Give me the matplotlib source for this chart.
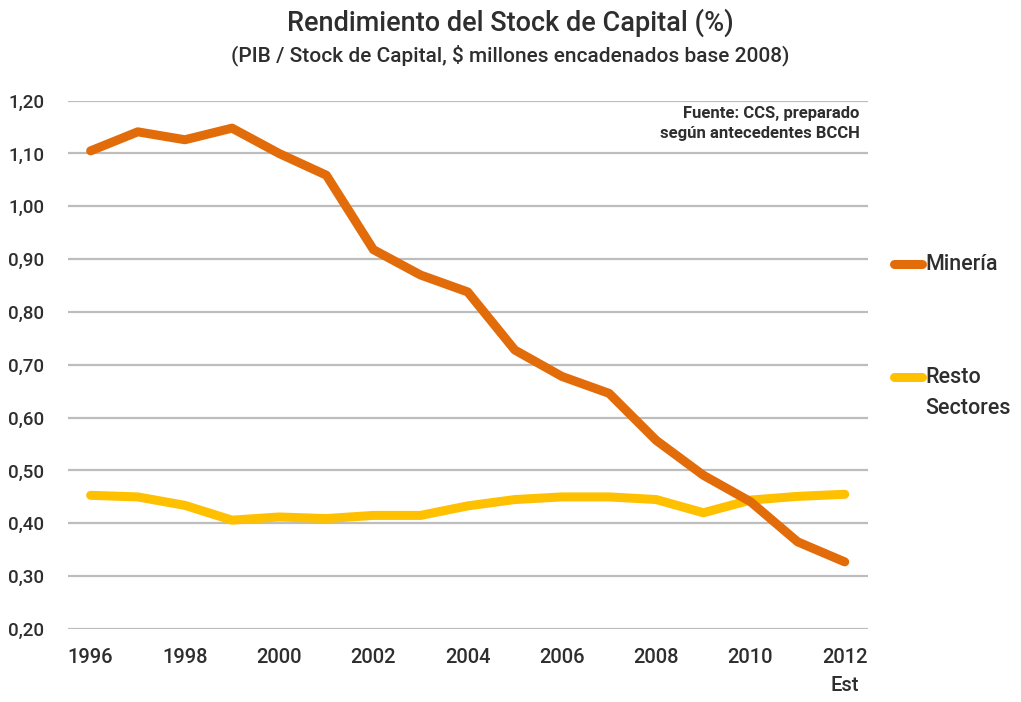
import matplotlib
matplotlib.use("Agg")
import matplotlib.pyplot as plt
from matplotlib.lines import Line2D

years = list(range(1996, 2013))
mineria = [1.105, 1.141, 1.126, 1.148, 1.100, 1.059, 0.918, 0.870, 0.838,
           0.728, 0.678, 0.646, 0.557, 0.491, 0.441, 0.365, 0.327]
resto = [0.453, 0.450, 0.434, 0.406, 0.412, 0.409, 0.415, 0.415, 0.433,
         0.445, 0.450, 0.450, 0.445, 0.420, 0.444, 0.451, 0.455]
xtick_years = [1996, 1998, 2000, 2002, 2004, 2006, 2008, 2010, 2012]
xtick_labels = ["1996", "1998", "2000", "2002", "2004", "2006", "2008", "2010", "2012\nEst"]
yticks = [0.2, 0.3, 0.4, 0.5, 0.6, 0.7, 0.8, 0.9, 1.0, 1.1, 1.2]

c_min = "#E36C0A"
c_res = "#FFC000"
txt = "#2e2e2e"

plt.rcParams['font.family'] = ['Roboto', 'DejaVu Sans']

fig = plt.figure(figsize=(10.21, 7.02), dpi=100)
ax = fig.add_axes([0.0666, 0.104, 0.7834, 0.7526])

for y in yticks:
    ax.axhline(y, color="#bdbdbd", lw=1.6, zorder=1)

ax.plot(years, resto, color=c_res, lw=6.5, solid_capstyle="round", solid_joinstyle="round", zorder=3)
ax.plot(years, mineria, color=c_min, lw=6.5, solid_capstyle="round", solid_joinstyle="round", zorder=4)

ax.set_xlim(1995.52, 2012.49)
ax.set_ylim(0.2, 1.2)
ax.set_xticks(xtick_years)
ax.set_xticklabels(xtick_labels, fontsize=14.5, color=txt, linespacing=1.55, fontweight="medium")
for lab in ax.get_xticklabels():
    lab.set_verticalalignment("top")
ax.set_yticks(yticks)
ax.set_yticklabels([f"{v:.2f}".replace(".", ",") for v in yticks], fontsize=13.5,
                   color=txt, fontweight="medium")
ax.tick_params(length=0, pad=17, axis="y")
ax.tick_params(length=0, pad=14, axis="x")
for s in ax.spines.values():
    s.set_visible(False)

fig.text(0.5, 0.968, "Rendimiento del Stock de Capital (%)", ha="center", va="center",
         fontsize=19.5, color=txt, fontweight="medium")
fig.text(0.5, 0.922, "(PIB / Stock de Capital, $ millones encadenados base 2008)", ha="center",
         va="center", fontsize=15, color=txt, fontweight="medium")

ax.text(0.99, 0.989, "Fuente: CCS, preparado\nsegún antecedentes BCCH", transform=ax.transAxes,
        ha="right", va="top", fontsize=12, fontweight="bold", color=txt, linespacing=1.35)

# legend on the right
for ly, label, col in [(0.624, "Minería", c_min), (0.463, "Resto\nSectores", c_res)]:
    fig.add_artist(Line2D([0.876, 0.903], [ly, ly], color=col, lw=6.5,
                          solid_capstyle="round", transform=fig.transFigure))
    fig.text(0.906, ly + 0.014, label, ha="left", va="top", fontsize=15.5, color=txt,
             linespacing=1.6, fontweight="medium")

fig.savefig("out.png", dpi=100, facecolor="white")
